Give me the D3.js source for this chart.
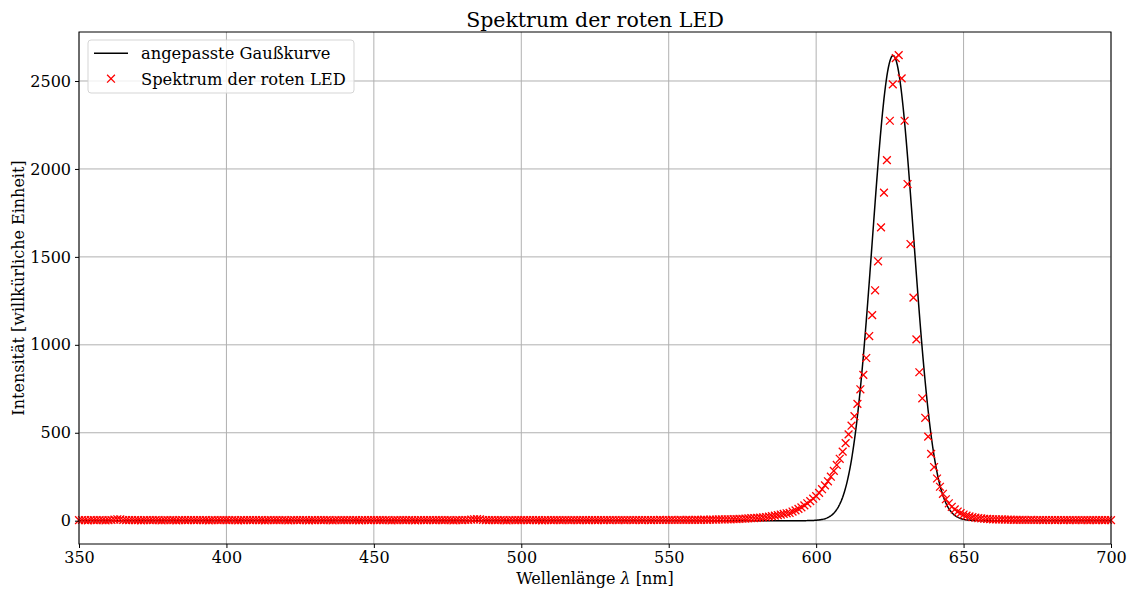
<!DOCTYPE html>
<html>
<head>
<meta charset="utf-8">
<script src="https://cdn.jsdelivr.net/npm/d3@7"></script>
<style>
  body { margin: 0; background: #fff; }
  text { font-family: "DejaVu Serif", serif; fill: #000; }
</style>
</head>
<body>
<svg id="chart" width="1132" height="592"></svg>
<script>
// Messwerte (Wellenlänge in nm)
const wavelength = [
  350,351,352,353,354,355,356,357,358,359,
  360,361,362,363,364,365,366,367,368,369,
  370,371,372,373,374,375,376,377,378,379,
  380,381,382,383,384,385,386,387,388,389,
  390,391,392,393,394,395,396,397,398,399,
  400,401,402,403,404,405,406,407,408,409,
  410,411,412,413,414,415,416,417,418,419,
  420,421,422,423,424,425,426,427,428,429,
  430,431,432,433,434,435,436,437,438,439,
  440,441,442,443,444,445,446,447,448,449,
  450,451,452,453,454,455,456,457,458,459,
  460,461,462,463,464,465,466,467,468,469,
  470,471,472,473,474,475,476,477,478,479,
  480,481,482,483,484,485,486,487,488,489,
  490,491,492,493,494,495,496,497,498,499,
  500,501,502,503,504,505,506,507,508,509,
  510,511,512,513,514,515,516,517,518,519,
  520,521,522,523,524,525,526,527,528,529,
  530,531,532,533,534,535,536,537,538,539,
  540,541,542,543,544,545,546,547,548,549,
  550,551,552,553,554,555,556,557,558,559,
  560,561,562,563,564,565,566,567,568,569,
  570,571,572,573,574,575,576,577,578,579,
  580,581,582,583,584,585,586,587,588,589,
  590,591,592,593,594,595,596,597,598,599,
  600,601,602,603,604,605,606,607,608,609,
  610,611,612,613,614,615,616,617,618,619,
  620,621,622,623,624,625,626,627,628,629,
  630,631,632,633,634,635,636,637,638,639,
  640,641,642,643,644,645,646,647,648,649,
  650,651,652,653,654,655,656,657,658,659,
  660,661,662,663,664,665,666,667,668,669,
  670,671,672,673,674,675,676,677,678,679,
  680,681,682,683,684,685,686,687,688,689,
  690,691,692,693,694,695,696,697,698,699,
  700
];

// Intensität (willkürliche Einheit)
const intensity = [
  3,4,3,2,4,3,3,4,3,2,
  3,4,6,8,7,4,3,3,4,3,
  3,2,3,4,3,3,4,3,2,3,
  4,3,3,2,3,4,3,3,4,3,
  3,4,3,3,2,3,4,3,3,4,
  3,3,4,3,2,3,3,4,3,3,
  4,3,3,2,3,4,3,3,3,4,
  3,2,3,4,3,3,4,3,2,3,
  3,4,3,3,4,3,2,3,4,3,
  3,3,4,3,3,2,3,4,3,3,
  4,3,3,3,4,3,2,3,3,4,
  3,3,4,3,2,3,4,3,3,4,
  3,3,4,3,3,4,3,2,3,4,
  3,4,4,6,8,9,7,4,3,3,
  4,3,3,4,3,2,3,4,3,3,
  3,4,3,3,4,3,3,2,3,4,
  3,3,4,3,3,4,3,3,4,3,
  3,4,3,3,4,3,3,4,3,4,
  3,4,4,3,4,3,4,4,3,4,
  4,3,4,4,3,4,4,5,4,4,
  4,5,4,4,5,4,5,5,4,5,
  5,5,6,5,6,6,6,7,7,7,
  8,8,9,9,10,11,12,13,14,15,
  16,17,19,21,23,26,29,32,35,39,
  42,44,52,59,67,76,87,99,111,125,
  140,158,179,201,224,250,283,317,352,393,
  441,491,540,594,664,747,829,925,1050,1169,
  1310,1475,1668,1865,2050,2274,2481,2630,2647,2515,
  2274,1914,1573,1268,1031,844,696,585,478,380,
  305,240,193,153,122,99,79,64,52,43,
  35,29,24,20,17,15,13,11,10,9,
  8,8,7,7,6,6,6,5,5,5,
  5,4,4,5,4,4,4,3,4,4,
  4,3,4,4,3,4,3,4,3,4,
  3,4,3,3,4,3,4,3,3,4,
  3
];

// Parameter der angepassten Gaußkurve
const fitAmplitude = 2645;
const fitCenter = 626.1;
const fitSigma = 7.0;

const xTicks = [350, 400, 450, 500, 550, 600, 650, 700];
const yTicks = [0, 500, 1000, 1500, 2000, 2500];

svg = d3.select('#chart');

// Zeichenbereich
left = 79; right = 1111; top_ = 32; bottom = 544;

xscale = d3.scaleLinear().domain([350, 700]).range([left, right]);
yscale = d3.scaleLinear().domain([-132.5, 2778.6]).range([bottom, top_]);

// Gitter
svg.append('g')
    .selectAll('line')
    .data(xTicks)
    .enter()
    .append('line')
    .attr('x1', d => xscale(d)).attr('x2', d => xscale(d))
    .attr('y1', top_).attr('y2', bottom)
    .attr('stroke', '#b0b0b0').attr('stroke-width', 1);
svg.append('g')
    .selectAll('line')
    .data(yTicks)
    .enter()
    .append('line')
    .attr('x1', left).attr('x2', right)
    .attr('y1', d => yscale(d)).attr('y2', d => yscale(d))
    .attr('stroke', '#b0b0b0').attr('stroke-width', 1);

// Gaußkurve
gauss = function(x) {
    return fitAmplitude * Math.exp(-Math.pow(x - fitCenter, 2) / (2 * fitSigma * fitSigma));
};
curveX = d3.range(350, 700.001, 0.25);
line = d3.line()
    .x(d => xscale(d))
    .y(d => yscale(gauss(d)));
svg.append('path')
    .datum(curveX)
    .attr('d', line)
    .attr('fill', 'none')
    .attr('stroke', '#000')
    .attr('stroke-width', 1.5);

// Messpunkte als x
s = 3.9;
svg.append('g')
    .selectAll('path')
    .data(wavelength)
    .enter()
    .append('path')
    .attr('d', function(d, i) {
        cx = xscale(d); cy = yscale(intensity[i]);
        return 'M' + (cx - s) + ',' + (cy - s) + 'L' + (cx + s) + ',' + (cy + s) +
               'M' + (cx - s) + ',' + (cy + s) + 'L' + (cx + s) + ',' + (cy - s);
    })
    .attr('stroke', '#ff0000')
    .attr('stroke-width', 1.3)
    .attr('fill', 'none');

// Achsen
xaxis = d3.axisBottom(xscale).tickValues(xTicks).tickSizeInner(4).tickSizeOuter(0).tickPadding(4).tickFormat(d3.format('d'));
yaxis = d3.axisLeft(yscale).tickValues(yTicks).tickSizeInner(4).tickSizeOuter(0).tickPadding(4).tickFormat(d3.format('d'));

gx = svg.append('g')
    .attr('transform', 'translate(0,' + bottom + ')')
    .call(xaxis);
gy = svg.append('g')
    .attr('transform', 'translate(' + left + ',0)')
    .call(yaxis);
[gx, gy].forEach(function(g) {
    g.select('.domain').remove();
    g.selectAll('line').attr('stroke', '#000').attr('stroke-width', 1);
    g.selectAll('text')
        .attr('font-size', 16)
        .attr('font-family', '"DejaVu Serif", serif')
        .attr('fill', '#000');
});

// Rahmen
svg.append('rect')
    .attr('x', left).attr('y', top_)
    .attr('width', right - left).attr('height', bottom - top_)
    .attr('fill', 'none').attr('stroke', '#000').attr('stroke-width', 1);

// Titel und Beschriftungen
svg.append('text')
    .attr('x', (left + right) / 2).attr('y', 26.5)
    .attr('text-anchor', 'middle')
    .attr('font-size', 20.5)
    .text('Spektrum der roten LED');

xlabel = svg.append('text')
    .attr('x', (left + right) / 2).attr('y', 584)
    .attr('text-anchor', 'middle')
    .attr('font-size', 16);
xlabel.append('tspan').text('Wellenlänge ');
xlabel.append('tspan').attr('font-style', 'italic').text('λ');
xlabel.append('tspan').text(' [nm]');

svg.append('text')
    .attr('transform', 'translate(24,' + (top_ + bottom) / 2 + ') rotate(-90)')
    .attr('text-anchor', 'middle')
    .attr('font-size', 16)
    .text('Intensität [willkürliche Einheit]');

// Legende
legend = svg.append('g').attr('transform', 'translate(88,40)');
legend.append('rect')
    .attr('width', 266).attr('height', 53)
    .attr('rx', 3)
    .attr('fill', '#fff').attr('fill-opacity', 0.8)
    .attr('stroke', '#d5d5d5').attr('stroke-width', 1);
legend.append('line')
    .attr('x1', 6).attr('x2', 40).attr('y1', 13.3).attr('y2', 13.3)
    .attr('stroke', '#000').attr('stroke-width', 1.5);
legend.append('path')
    .attr('d', 'M' + (23 - s) + ',' + (38.7 - s) + 'L' + (23 + s) + ',' + (38.7 + s) +
               'M' + (23 - s) + ',' + (38.7 + s) + 'L' + (23 + s) + ',' + (38.7 - s))
    .attr('stroke', '#ff0000').attr('stroke-width', 1.3);
legend.append('text').attr('x', 53).attr('y', 19).attr('font-size', 16.3).text('angepasste Gaußkurve');
legend.append('text').attr('x', 53).attr('y', 44.5).attr('font-size', 16.3).text('Spektrum der roten LED');
</script>
</body>
</html>
